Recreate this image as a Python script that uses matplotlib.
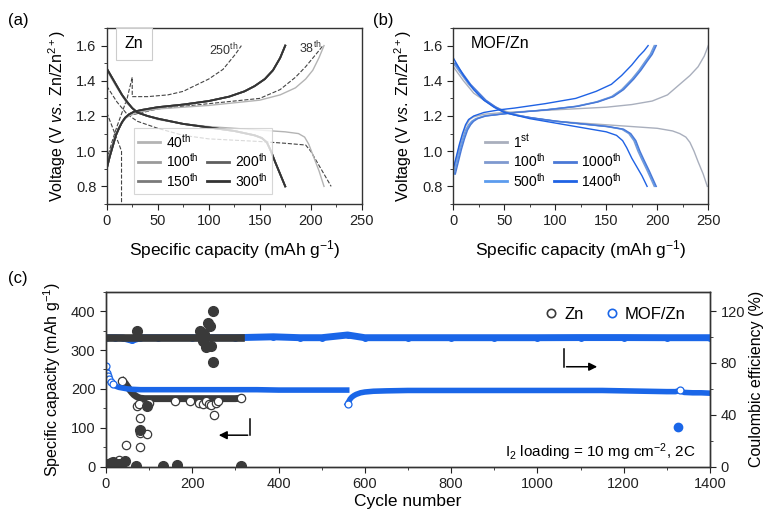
import matplotlib
matplotlib.use("Agg")
import matplotlib.pyplot as plt
from matplotlib.lines import Line2D
from matplotlib.ticker import MultipleLocator

plt.rcParams["font.family"] = ["Liberation Sans", "DejaVu Sans"]
plt.rcParams["mathtext.fontset"] = "custom"
plt.rcParams["mathtext.rm"] = "Liberation Sans"
plt.rcParams["mathtext.it"] = "Liberation Sans:italic"
plt.rcParams["axes.linewidth"] = 1.0
plt.rcParams["axes.edgecolor"] = "#333333"

# ---------------- (a) Zn : voltage profiles ----------------
zn_late_chg_cap = [0, 3, 6, 9, 12, 15, 18, 22, 27, 35, 50, 75, 100, 120, 135, 145, 155, 163, 170, 175]
zn_late_chg_v = [0.90, 0.97, 1.03, 1.09, 1.13, 1.165, 1.19, 1.21, 1.225, 1.235, 1.25, 1.265, 1.285, 1.31,
                 1.34, 1.37, 1.41, 1.46, 1.53, 1.60]
zn_late_dis_cap = [0, 5, 10, 15, 20, 25, 30, 40, 50, 75, 100, 125, 145, 152, 157, 161, 165, 170, 175]
zn_late_dis_v = [1.47, 1.42, 1.37, 1.32, 1.28, 1.245, 1.22, 1.20, 1.185, 1.155, 1.135, 1.115, 1.09, 1.075,
                 1.05, 1.00, 0.94, 0.87, 0.80]

zn_40_chg_cap = [0, 3, 6, 9, 12, 15, 18, 22, 30, 50, 100, 150, 170, 185, 195, 202, 208, 213]
zn_40_chg_v = [0.92, 0.98, 1.04, 1.09, 1.13, 1.16, 1.185, 1.20, 1.22, 1.24, 1.26, 1.29, 1.32, 1.36, 1.41,
               1.46, 1.53, 1.60]
zn_40_dis_cap = [0, 5, 10, 20, 30, 50, 75, 100, 150, 175, 188, 194, 198, 202, 208, 213]
zn_40_dis_v = [1.46, 1.41, 1.36, 1.27, 1.22, 1.18, 1.155, 1.14, 1.12, 1.11, 1.10, 1.08, 1.04, 0.98, 0.89, 0.80]

zn_38_chg_cap = [0, 5, 10, 20, 50, 100, 150, 170, 185, 195, 205, 212]
zn_38_chg_v = [0.93, 1.03, 1.12, 1.20, 1.24, 1.27, 1.30, 1.35, 1.42, 1.48, 1.55, 1.60]
zn_38_dis_cap = [0, 10, 20, 30, 50, 75, 100, 150, 175, 195, 200, 205, 212, 220]
zn_38_dis_v = [1.37, 1.28, 1.21, 1.17, 1.13, 1.09, 1.07, 1.055, 1.045, 1.035, 1.00, 0.95, 0.88, 0.80]

zn_250_chg_cap = [0, 5, 10, 15, 20, 25, 25, 40, 60, 75, 82, 100, 114, 126, 132]
zn_250_chg_v = [0.95, 1.05, 1.14, 1.22, 1.30, 1.42, 1.31, 1.31, 1.32, 1.34, 1.36, 1.41, 1.465, 1.55, 1.60]
zn_250_dis_cap = [0, 4, 8, 12, 14.5, 14.5]
zn_250_dis_v = [1.22, 1.16, 1.10, 1.04, 1.00, 0.70]

zn_labels = ["40$^{\\mathrm{th}}$", "100$^{\\mathrm{th}}$", "150$^{\\mathrm{th}}$",
             "200$^{\\mathrm{th}}$", "300$^{\\mathrm{th}}$"]
zn_colors = ["#b4b4b4", "#9a9a9a", "#7a7a7a", "#5e5e5e", "#333333"]

# ---------------- (b) MOF/Zn : voltage profiles ----------------
mof_1_chg_cap = [0, 3, 6, 9, 12, 16, 20, 30, 50, 100, 150, 175, 195, 210, 222, 232, 240, 246, 250]
mof_1_chg_v = [0.90, 0.96, 1.03, 1.09, 1.14, 1.18, 1.195, 1.21, 1.22, 1.235, 1.25, 1.265, 1.285, 1.32,
               1.38, 1.43, 1.48, 1.54, 1.60]
mof_1_dis_cap = [0, 5, 10, 20, 30, 40, 50, 60, 75, 100, 150, 175, 200, 215, 222, 228, 232, 236, 240, 245, 249]
mof_1_dis_v = [1.48, 1.44, 1.40, 1.33, 1.29, 1.255, 1.23, 1.21, 1.19, 1.17, 1.15, 1.14, 1.13, 1.115, 1.10,
               1.08, 1.05, 1.00, 0.94, 0.87, 0.80]

mof_mid_chg_cap = [0, 3, 6, 9, 12, 15, 18, 22, 30, 45, 60, 90, 120, 140, 155, 165, 175, 182, 188, 193, 197]
mof_mid_chg_v = [0.87, 0.94, 1.01, 1.07, 1.12, 1.15, 1.17, 1.185, 1.20, 1.21, 1.22, 1.235, 1.255, 1.28,
                 1.31, 1.35, 1.41, 1.46, 1.51, 1.55, 1.60]
mof_mid_dis_cap = [0, 5, 10, 15, 20, 25, 30, 40, 50, 60, 75, 100, 125, 150, 165, 172, 177, 181, 185, 190, 197]
mof_mid_dis_v = [1.50, 1.46, 1.42, 1.38, 1.35, 1.32, 1.29, 1.25, 1.22, 1.205, 1.19, 1.17, 1.155, 1.14,
                 1.125, 1.10, 1.06, 1.00, 0.95, 0.89, 0.80]

mof_1400_chg_cap = [0, 3, 6, 9, 12, 15, 20, 30, 45, 60, 90, 120, 140, 155, 165, 175, 182, 187, 191]
mof_1400_chg_v = [0.90, 0.97, 1.04, 1.10, 1.15, 1.18, 1.20, 1.22, 1.235, 1.245, 1.27, 1.30, 1.34, 1.38,
                  1.43, 1.49, 1.54, 1.57, 1.60]
mof_1400_dis_cap = [0, 5, 10, 20, 30, 40, 50, 75, 100, 125, 150, 160, 166, 170, 175, 180, 185, 190]
mof_1400_dis_v = [1.53, 1.48, 1.43, 1.35, 1.29, 1.25, 1.22, 1.185, 1.16, 1.135, 1.11, 1.09, 1.06, 1.02,
                  0.96, 0.91, 0.86, 0.80]

mof_labels = ["1$^{\\mathrm{st}}$", "100$^{\\mathrm{th}}$", "500$^{\\mathrm{th}}$",
              "1000$^{\\mathrm{th}}$", "1400$^{\\mathrm{th}}$"]
mof_colors = ["#a9afbd", "#7f99cf", "#5c9cee", "#4a78d6", "#1f62e4"]
mof_offsets = [0, 1, 2]  # capacity shift (mAh/g) of 100th/500th/1000th curves

# ---------------- (c) cycling ----------------
mof_cyc_a = [1, 3, 5, 8, 12, 16, 20, 25, 30, 40, 50, 60, 80, 100, 150, 200, 250, 300, 350, 400, 450, 500, 540, 558]
mof_cap_a = [258, 240, 232, 225, 218, 213, 209, 206, 204, 202, 200, 199, 198, 198, 198, 198, 198, 198, 198,
             197, 197, 197, 197, 197]
mof_cyc_b = [560, 563, 566, 570, 575, 580, 590, 600, 620, 650, 700, 750, 800, 850, 900, 950, 1000, 1050,
             1100, 1150, 1200, 1250, 1300, 1320, 1330, 1340, 1360, 1380, 1400]
mof_cap_b = [162, 168, 174, 179, 183, 186, 190, 192, 194, 195, 196, 196, 196, 196, 196, 196, 196, 196,
             196, 196, 195, 194, 193, 193, 196, 191, 190, 190, 189]
mof_ce_cyc = [1, 20, 40, 60, 80, 120, 200, 300, 388, 450, 500, 560, 600, 700, 800, 900, 1000, 1100, 1200, 1300, 1400]
mof_ce = [99.5, 99.5, 99.3, 97.5, 99.5, 99.5, 99.5, 99.5, 100.2, 99.5, 99.5, 101.6, 99.5, 99.5, 99.5,
          99.5, 99.5, 99.6, 99.6, 99.5, 99.5]
mof_ce_out_cyc = [1326]
mof_ce_out = [30.4]

zn_cap_cyc = [40, 45, 50, 55, 60, 65, 70, 75, 80, 90, 100, 120, 150, 180, 200, 220, 240, 260, 280, 300, 312]
zn_cap = [220, 214, 206, 198, 191, 185, 181, 178, 176, 175, 175, 175, 175, 175, 175, 175, 175, 175, 175, 175, 176]
zn_cap_sc_cyc = [5, 11, 20, 30, 35, 37, 46, 72, 76, 80, 80, 80, 95, 100, 160, 195, 215, 225, 232, 238, 244,
                 250, 255, 260, 312]
zn_cap_sc = [2, 13, 8, 17, 5, 221, 55, 157, 160, 124, 86, 50, 83, 165, 168, 168, 165, 162, 168, 160, 158,
             134, 165, 170, 176]
zn_ce_cyc = [1, 20, 40, 60, 80, 100, 120, 140, 160, 180, 200, 215, 240, 260, 280, 300, 312]
zn_ce = [99.5, 99.5, 99.5, 99.5, 99.5, 99.5, 99.5, 99.5, 99.5, 99.5, 99.5, 99.5, 99.5, 99.5, 99.5, 99.5, 99.5]
zn_ce_sc_cyc = [5, 16, 30, 44, 69, 79, 94, 133, 164, 312, 71, 218, 222, 228, 233, 237, 240, 243, 249, 249, 225]
zn_ce_sc = [2, 4, 2, 4.5, 0.8, 28, 47, 0.5, 1.5, 0.5, 104.7, 104.7, 101, 102, 92, 111, 108.5, 93, 120, 80.4, 97]

ZN_C = "#3a3a3a"
MOF_C = "#1a66e8"

fig = plt.figure(figsize=(7.64, 5.12), dpi=100)
axa = fig.add_axes([0.1397, 0.6016, 0.3338, 0.3437])
axb = fig.add_axes([0.5933, 0.6016, 0.3338, 0.3437])
axc = fig.add_axes([0.1387, 0.0885, 0.7906, 0.3418])


def style_volt(ax):
    ax.set_xlim(0, 250)
    ax.set_ylim(0.7, 1.7)
    ax.xaxis.set_major_locator(MultipleLocator(50))
    ax.xaxis.set_minor_locator(MultipleLocator(25))
    ax.yaxis.set_major_locator(MultipleLocator(0.2))
    ax.yaxis.set_minor_locator(MultipleLocator(0.1))
    ax.tick_params(which="both", direction="out", labelsize=10.5, colors="#222222")
    ax.tick_params(which="major", length=4)
    ax.tick_params(which="minor", length=2.5)
    ax.set_xlabel("Specific capacity (mAh g$^{-1}$)", fontsize=12.5, labelpad=7)
    ax.set_ylabel("Voltage (V $\\mathit{vs.}$ Zn/Zn$^{2+}$)", fontsize=11.5, labelpad=6)


# ---- panel (a)
style_volt(axa)
axa.plot(zn_38_chg_cap, zn_38_chg_v, "--", color="#444444", lw=0.8)
axa.plot(zn_38_dis_cap, zn_38_dis_v, "--", color="#444444", lw=0.8)
axa.plot(zn_250_chg_cap, zn_250_chg_v, "--", color="#444444", lw=0.8)
axa.plot(zn_250_dis_cap, zn_250_dis_v, "--", color="#444444", lw=0.8)
handles_a = []
for i, (lab, col) in enumerate(zip(zn_labels, zn_colors)):
    if i == 0:
        axa.plot(zn_40_chg_cap, zn_40_chg_v, color=col, lw=1.0)
        h, = axa.plot(zn_40_dis_cap, zn_40_dis_v, color=col, lw=1.0, label=lab)
    else:
        axa.plot(zn_late_chg_cap, zn_late_chg_v, color=col, lw=1.3)
        h, = axa.plot(zn_late_dis_cap, zn_late_dis_v, color=col, lw=1.3, label=lab)
    handles_a.append(h)
blank = Line2D([], [], color="none")
leg_a = axa.legend([handles_a[0], handles_a[1], handles_a[2], blank, handles_a[3], handles_a[4]],
                   [zn_labels[0], zn_labels[1], zn_labels[2], "", zn_labels[3], zn_labels[4]],
                   ncol=2, loc="lower left", bbox_to_anchor=(0.08, 0.02), fontsize=10,
                   frameon=True, fancybox=False, edgecolor="#cccccc", handlelength=1.6,
                   handletextpad=0.4, columnspacing=0.6, labelspacing=0.12, borderpad=0.3)
leg_a.get_frame().set_linewidth(0.8)
axa.text(0.07, 0.91, "Zn", transform=axa.transAxes, fontsize=11.5, ha="left", va="center",
         bbox=dict(boxstyle="square,pad=0.55", fc="white", ec="#cccccc", lw=0.8))
axa.text(115, 1.575, "250$^{\\mathrm{th}}$", fontsize=9, ha="center", va="center", color="#333333")
axa.text(200, 1.585, "38$^{\\mathrm{th}}$", fontsize=9, ha="center", va="center", color="#333333")

# ---- panel (b)
style_volt(axb)
handles_b = []
h, = axb.plot(mof_1_chg_cap, mof_1_chg_v, color=mof_colors[0], lw=1.0)
axb.plot(mof_1_dis_cap, mof_1_dis_v, color=mof_colors[0], lw=1.0)
handles_b.append(h)
for off, col in zip(mof_offsets, mof_colors[1:4]):
    h, = axb.plot([c + off for c in mof_mid_chg_cap], mof_mid_chg_v, color=col, lw=1.0)
    axb.plot([c + off for c in mof_mid_dis_cap], mof_mid_dis_v, color=col, lw=1.0)
    handles_b.append(h)
h, = axb.plot(mof_1400_chg_cap, mof_1400_chg_v, color=mof_colors[4], lw=1.0)
axb.plot(mof_1400_dis_cap, mof_1400_dis_v, color=mof_colors[4], lw=1.0)
handles_b.append(h)
leg_b = axb.legend([handles_b[0], handles_b[1], handles_b[2], blank, handles_b[3], handles_b[4]],
                   [mof_labels[0], mof_labels[1], mof_labels[2], "", mof_labels[3], mof_labels[4]],
                   ncol=2, loc="lower left", bbox_to_anchor=(0.08, 0.02), fontsize=10,
                   frameon=False, handlelength=1.6, handletextpad=0.4, columnspacing=0.6,
                   labelspacing=0.12, borderpad=0.3)
for ln in leg_b.get_lines():
    ln.set_linewidth(2.0)
for ln in leg_a.get_lines():
    ln.set_linewidth(2.0)
axb.text(0.07, 0.91, "MOF/Zn", transform=axb.transAxes, fontsize=11.5, ha="left", va="center")

# ---- panel (c)
axc.set_xlim(0, 1400)
axc.set_ylim(0, 450)
axc.xaxis.set_major_locator(MultipleLocator(200))
axc.xaxis.set_minor_locator(MultipleLocator(100))
axc.yaxis.set_major_locator(MultipleLocator(100))
axc.yaxis.set_minor_locator(MultipleLocator(50))
axc.tick_params(which="both", direction="out", labelsize=10.5, colors="#222222")
axc.tick_params(which="major", length=4)
axc.tick_params(which="minor", length=2.5)
axc.set_xlabel("Cycle number", fontsize=12.5, labelpad=2)
axc.set_ylabel("Specific capacity (mAh g$^{-1}$)", fontsize=11.5, labelpad=6)

axc.plot(zn_cap_cyc, zn_cap, "-", color=ZN_C, lw=5)
axc.plot(zn_cap_sc_cyc, zn_cap_sc, "o", mfc="white", mec=ZN_C, ms=6, mew=0.9)
axc.plot(mof_cyc_a, mof_cap_a, "-", color=MOF_C, lw=4)
axc.plot(mof_cyc_b, mof_cap_b, "-", color=MOF_C, lw=4)
axc.plot(mof_cyc_a[:6], mof_cap_a[:6], "o", mfc="white", mec=MOF_C, ms=5, mew=0.9)
axc.plot(mof_cyc_b[:1], mof_cap_b[:1], "o", mfc="white", mec=MOF_C, ms=5, mew=0.9)
axc.plot(mof_cyc_b[24:25], mof_cap_b[24:25], "o", mfc="white", mec=MOF_C, ms=5, mew=0.9)

axr = axc.twinx()
axr.set_ylim(0, 135)
axr.yaxis.set_major_locator(MultipleLocator(40))
axr.yaxis.set_minor_locator(MultipleLocator(20))
axr.tick_params(which="both", direction="out", labelsize=10.5, colors="#222222")
axr.tick_params(which="major", length=4)
axr.tick_params(which="minor", length=2.5)
axr.set_ylabel("Coulombic efficiency (%)", fontsize=11.5, labelpad=3)

axr.plot(mof_ce_cyc, mof_ce, "-", color=MOF_C, lw=5)
axr.plot(mof_ce_cyc, mof_ce, "o", color=MOF_C, ms=5, mew=0)
axr.plot(mof_ce_out_cyc, mof_ce_out, "o", color=MOF_C, ms=6)
axr.plot(zn_ce_cyc, zn_ce, "-", color=ZN_C, lw=5.5)
axr.plot(zn_ce_sc_cyc, zn_ce_sc, "o", color=ZN_C, ms=7)

zn_h = Line2D([], [], ls="none", marker="o", mfc="white", mec=ZN_C, ms=6, mew=1.2)
mof_h = Line2D([], [], ls="none", marker="o", mfc="white", mec=MOF_C, ms=6, mew=1.2)
axr.legend([zn_h, mof_h], ["Zn", "MOF/Zn"], ncol=2, loc="upper right", bbox_to_anchor=(0.985, 1.0),
           frameon=False, fontsize=12, handletextpad=0.3, columnspacing=1.2, handlelength=1.0)

# guide arrows
axc.plot([334, 334], [123, 81], color="black", lw=1.1)
axc.annotate("", xy=(255, 81), xytext=(335, 81),
             arrowprops=dict(arrowstyle="-|>", color="black", lw=1.1, mutation_scale=12))
axc.plot([1062, 1062], [302, 257], color="black", lw=1.1)
axc.annotate("", xy=(1145, 257), xytext=(1061, 257),
             arrowprops=dict(arrowstyle="-|>", color="black", lw=1.1, mutation_scale=12))

axc.text(1366, 37, "I$_2$ loading = 10 mg cm$^{-2}$, 2C", fontsize=11, ha="right", va="center")

fig.text(0.011, 0.96, "(a)", fontsize=12, ha="left", va="center")
fig.text(0.488, 0.96, "(b)", fontsize=12, ha="left", va="center")
fig.text(0.011, 0.457, "(c)", fontsize=12, ha="left", va="center")

fig.savefig("out.png", dpi=100)
